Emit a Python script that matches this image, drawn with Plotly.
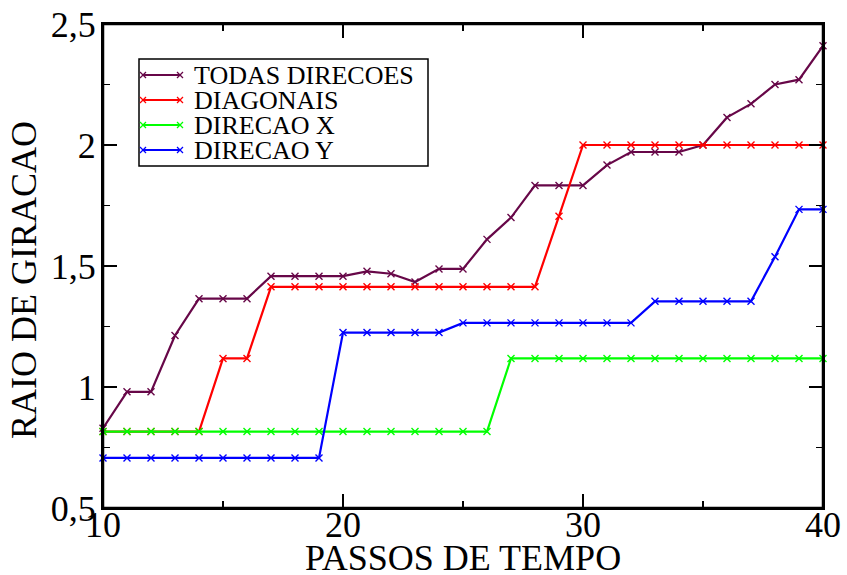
import plotly.graph_objects as go

steps = list(range(10, 41))

todas = [0.83, 0.98, 0.98, 1.213, 1.365, 1.365, 1.365, 1.458, 1.458, 1.458,
         1.458, 1.478, 1.468, 1.434, 1.488, 1.488, 1.61, 1.70, 1.833, 1.833,
         1.833, 1.917, 1.971, 1.971, 1.971, 2.0, 2.114, 2.17, 2.25, 2.27, 2.41]
diagonais = [0.816, 0.816, 0.816, 0.816, 0.816, 1.118, 1.118, 1.414, 1.414, 1.414,
             1.414, 1.414, 1.414, 1.414, 1.414, 1.414, 1.414, 1.414, 1.414, 1.706,
             2.0, 2.0, 2.0, 2.0, 2.0, 2.0, 2.0, 2.0, 2.0, 2.0, 2.0]
direcao_x = [0.816, 0.816, 0.816, 0.816, 0.816, 0.816, 0.816, 0.816, 0.816, 0.816,
             0.816, 0.816, 0.816, 0.816, 0.816, 0.816, 0.816, 1.118, 1.118, 1.118,
             1.118, 1.118, 1.118, 1.118, 1.118, 1.118, 1.118, 1.118, 1.118, 1.118, 1.118]
direcao_y = [0.707, 0.707, 0.707, 0.707, 0.707, 0.707, 0.707, 0.707, 0.707, 0.707,
             1.225, 1.225, 1.225, 1.225, 1.225, 1.265, 1.265, 1.265, 1.265, 1.265,
             1.265, 1.265, 1.265, 1.354, 1.354, 1.354, 1.354, 1.354, 1.538, 1.734, 1.734]

series_names = ["TODAS DIRECOES", "DIAGONAIS", "DIRECAO X", "DIRECAO Y"]
series_values = [todas, diagonais, direcao_x, direcao_y]
series_colors = ["#670748", "#ff0000", "#00ff00", "#0000ff"]

x_title = "PASSOS DE TEMPO"
y_title = "RAIO DE GIRACAO"

FONT = "Liberation Serif, Times New Roman, serif"

# full-window figure (page margin removed in the written html)
W, H = 847, 575
ML, MR, MT, MB = 103, 24, 24, 67
PW, PH = W - ML - MR, H - MT - MB


def px_x(px):
    return (px - ML) / PW


def px_y(py):
    return (H - MB - py) / PH


fig = go.Figure()
for name, vals, col in zip(series_names, series_values, series_colors):
    fig.add_trace(go.Scatter(
        x=steps, y=vals, name=name, mode="lines+markers",
        line=dict(color=col, width=2.2),
        marker=dict(symbol="x-thin", size=7, line=dict(color=col, width=1.4), color=col),
        showlegend=False, cliponaxis=False,
    ))

# plot frame
fig.add_shape(type="rect", xref="paper", yref="paper", x0=0, x1=1, y0=0, y1=1,
              line=dict(color="black", width=2.5), layer="above")

# legend box drawn as layout decoration
box = dict(x0=139, x1=428, y0=59, y1=166)
fig.add_shape(type="rect", xref="paper", yref="paper",
              x0=px_x(box["x0"]), x1=px_x(box["x1"]),
              y0=px_y(box["y1"]), y1=px_y(box["y0"]),
              line=dict(color="black", width=1.5), fillcolor="white", layer="above")
row0, row_gap = 75, 25
for i, (name, col) in enumerate(zip(series_names, series_colors)):
    cy = row0 + i * row_gap
    fig.add_shape(type="line", xref="paper", yref="paper",
                  x0=px_x(143), x1=px_x(180), y0=px_y(cy), y1=px_y(cy),
                  line=dict(color=col, width=2.2), layer="above")
    for mx in (143, 180):
        for dy in (-3, 3):
            fig.add_shape(type="line", xref="paper", yref="paper",
                          x0=px_x(mx - 3), x1=px_x(mx + 3),
                          y0=px_y(cy - dy), y1=px_y(cy + dy),
                          line=dict(color=col, width=1.3), layer="above")
    fig.add_annotation(x=px_x(192), y=px_y(cy), xref="paper", yref="paper",
                       text=name, showarrow=False, xanchor="left", yanchor="middle",
                       font=dict(family=FONT, size=26, color="black"))

# axis titles
fig.add_annotation(x=0.5, y=px_y(558), xref="paper", yref="paper", text=x_title,
                   showarrow=False, xanchor="center", yanchor="middle",
                   font=dict(family=FONT, size=36, color="black"))
fig.add_annotation(x=px_x(24), y=px_y(280), xref="paper", yref="paper", text=y_title,
                   showarrow=False, xanchor="center", yanchor="middle", textangle=-90,
                   font=dict(family=FONT, size=36, color="black"))

axis_common = dict(
    showline=True, linecolor="black", linewidth=2, mirror="allticks",
    ticks="inside", ticklen=14, tickwidth=1.5, tickcolor="black",
    showgrid=False, zeroline=False, automargin=False,
    ticklabeloverflow="allow",
    tickfont=dict(family=FONT, size=36, color="black"),
)

fig.update_xaxes(
    range=[10, 40], tick0=10, dtick=10,
    minor=dict(ticks="inside", ticklen=7, tickwidth=1.5, tickcolor="black", dtick=5, tick0=10, showgrid=False),
    ticklabelstandoff=-16,
    **axis_common,
)
fig.update_yaxes(
    range=[0.5, 2.5], tick0=0.5, dtick=0.5,
    minor=dict(ticks="inside", ticklen=7, tickwidth=1.5, tickcolor="black", dtick=0.25, tick0=0.5, showgrid=False),
    ticklabelstandoff=-2,
    **axis_common,
)

fig.update_layout(
    width=W, height=H,
    margin=dict(l=ML, r=MR, t=MT, b=MB),
    paper_bgcolor="white", plot_bgcolor="white",
    separators=",.",
    font=dict(family=FONT, color="black"),
    showlegend=False,
)

fig.write_html(
    "out.html",
    config={"displayModeBar": False, "staticPlot": True},
    post_script="document.body.style.margin='0';document.body.style.overflow='hidden';",
)
